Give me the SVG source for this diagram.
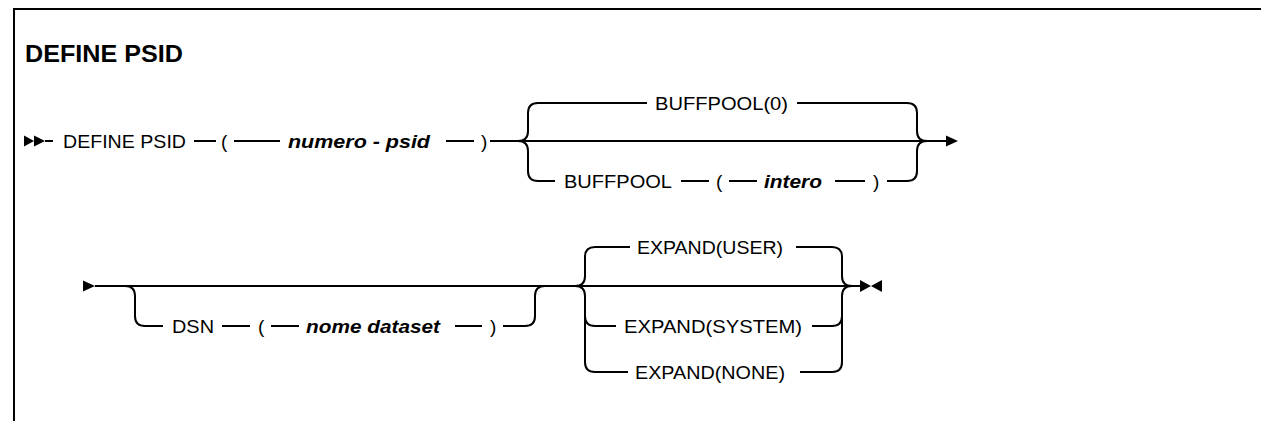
<svg xmlns="http://www.w3.org/2000/svg" width="1261" height="421" viewBox="0 0 1261 421">
<style>
.t{font-family:"Liberation Sans",Arial,sans-serif;font-size:19px;fill:#000}
.v{font-family:"Liberation Sans",Arial,sans-serif;font-size:19px;font-style:italic;font-weight:bold;fill:#000}
.h{font-family:"Liberation Sans",Arial,sans-serif;font-size:23px;font-weight:bold;fill:#000}
.l{fill:none;stroke:#000;stroke-width:2}
.a{fill:#000;stroke:none}
</style>
<rect x="0" y="0" width="1261" height="421" fill="#fff"/>
<path class="l" d="M14 421 V9 H1261"/>
<text class="h" x="25" y="62" textLength="158" lengthAdjust="spacingAndGlyphs">DEFINE PSID</text>
<g id="connectors">
  <path class="a" d="M24 135.5 L34 141 L24 146.5 Z M34 135.5 L45 141 L34 146.5 Z"/>
  <path class="l" d="M45 141 H53 M194 141 H216 M234 141 H280 M446 141 H474 M490 141 H946"/>
  <path class="a" d="M946 135.5 L958 141 L946 146.5 Z"/>
  <path class="l" d="M518 141 Q528 141 528 131 V113 Q528 103 538 103 H647"/>
  <path class="l" d="M518 141 Q528 141 528 151 V171 Q528 181 538 181 H555"/>
  <path class="l" d="M797 103 H907 Q917 103 917 113 V131 Q917 141 927 141"/>
  <path class="l" d="M681 181 H709 M729 181 H757 M835 181 H865 M887 181 H907 Q917 181 917 171 V151 Q917 141 927 141"/>
  <path class="a" d="M83 280.5 L95 286 L83 291.5 Z"/>
  <path class="l" d="M95 286 H860"/>
  <path class="l" d="M125 286 Q135 286 135 296 V316 Q135 326 145 326 H163"/>
  <path class="l" d="M222 326 H250 M271 326 H299 M455 326 H482 M503 326 H525 Q535 326 535 316 V296 Q535 286 545 286"/>
  <path class="l" d="M575 286 Q585 286 585 276 V257 Q585 247 595 247 H630"/>
  <path class="l" d="M575 286 Q585 286 585 296 V316 Q585 326 595 326 H616"/>
  <path class="l" d="M585 316 V362 Q585 372 595 372 H628"/>
  <path class="l" d="M796 247 H832 Q842 247 842 257 V276 Q842 286 852 286"/>
  <path class="l" d="M812 326 H832 Q842 326 842 316 V296 Q842 286 852 286"/>
  <path class="l" d="M800 372 H832 Q842 372 842 362 V316"/>
  <path class="a" d="M860 280 L871 286 L860 292 Z M882 280 L871 286 L882 292 Z"/>
</g>
<g id="n-define"><text class="t" x="63" y="148" textLength="123" lengthAdjust="spacingAndGlyphs">DEFINE PSID</text></g>
<g id="n-lp1"><text class="t" x="221" y="148">(</text></g>
<g id="n-numero"><text class="v" x="288" y="148" textLength="142" lengthAdjust="spacingAndGlyphs">numero - psid</text></g>
<g id="n-rp1"><text class="t" x="481" y="148">)</text></g>
<g id="n-buff0"><text class="t" x="655" y="110" textLength="133" lengthAdjust="spacingAndGlyphs">BUFFPOOL(0)</text></g>
<g id="n-buff"><text class="t" x="564" y="188" textLength="108" lengthAdjust="spacingAndGlyphs">BUFFPOOL</text></g>
<g id="n-lp2"><text class="t" x="716" y="188">(</text></g>
<g id="n-intero"><text class="v" x="764" y="188" textLength="58" lengthAdjust="spacingAndGlyphs">intero</text></g>
<g id="n-rp2"><text class="t" x="873" y="188">)</text></g>
<g id="n-dsn"><text class="t" x="172" y="333" textLength="42" lengthAdjust="spacingAndGlyphs">DSN</text></g>
<g id="n-lp3"><text class="t" x="258" y="333">(</text></g>
<g id="n-nome"><text class="v" x="306" y="333" textLength="134" lengthAdjust="spacingAndGlyphs">nome dataset</text></g>
<g id="n-rp3"><text class="t" x="490" y="333">)</text></g>
<g id="n-user"><text class="t" x="637" y="254" textLength="146" lengthAdjust="spacingAndGlyphs">EXPAND(USER)</text></g>
<g id="n-system"><text class="t" x="624" y="333" textLength="178" lengthAdjust="spacingAndGlyphs">EXPAND(SYSTEM)</text></g>
<g id="n-none"><text class="t" x="635" y="379" textLength="150" lengthAdjust="spacingAndGlyphs">EXPAND(NONE)</text></g>
</svg>
